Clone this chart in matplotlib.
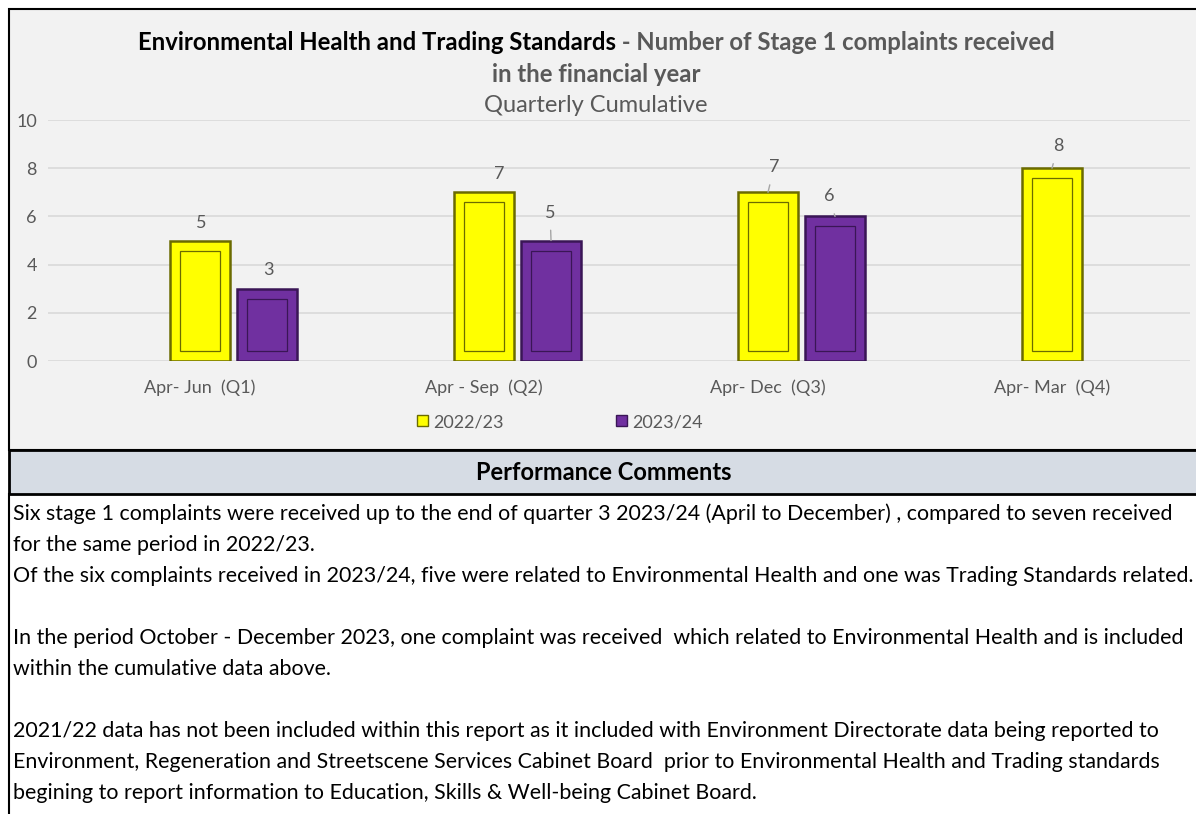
import matplotlib
matplotlib.use("Agg")
import matplotlib.pyplot as plt
from matplotlib.patches import Rectangle, Patch

W, H = 1196, 814

QUARTERS = ["Apr- Jun  (Q1)", "Apr - Sep  (Q2)", "Apr- Dec  (Q3)", "Apr- Mar  (Q4)"]
SERIES = ["2022/23", "2023/24"]
VALS_2223 = [5, 7, 7, 8]
VALS_2324 = [3, 5, 6, None]
YTICKS = [0, 2, 4, 6, 8, 10]

TITLE_BLACK = "Environmental Health and Trading Standards"
TITLE_GREY = " - Number of Stage 1 complaints received"
TITLE_L2 = "in the financial year"
SUBTITLE = "Quarterly Cumulative"
HEADER = "Performance Comments"
COMMENTS = [
    "Six stage 1 complaints were received up to the end of quarter 3 2023/24 (April to December) , compared to seven received",
    "for the same period in 2022/23.",
    "Of the six complaints received in 2023/24, five were related to Environmental Health and one was Trading Standards related.",
    "",
    "In the period October - December 2023, one complaint was received  which related to Environmental Health and is included",
    "within the cumulative data above.",
    "",
    "2021/22 data has not been included within this report as it included with Environment Directorate data being reported to",
    "Environment, Regeneration and Streetscene Services Cabinet Board  prior to Environmental Health and Trading standards",
    "begining to report information to Education, Skills & Well-being Cabinet Board.",
]

YELLOW, YELLOW_EDGE = "#FFFF00", "#6B6B00"
PURPLE, PURPLE_EDGE = "#7030A0", "#3A1656"
GREY_TXT = "#595959"

plt.rcParams["font.family"] = ["Lato", "DejaVu Sans"]

fig = plt.figure(figsize=(W / 100, H / 100), dpi=100)
fig.patch.set_facecolor("white")


def fx(x):
    return x / W


def fy(y):
    return 1 - y / H


def frect(x0, y0, x1, y1, **kw):
    fig.patches.append(Rectangle((fx(x0), fy(y1)), fx(x1 - x0), (y1 - y0) / H,
                                 transform=fig.transFigure, figure=fig, zorder=-5, **kw))


# panels
frect(9, 9, 1200, 450, facecolor="#F2F2F2", edgecolor="black", lw=1.5)
frect(9, 450, 1200, 494, facecolor="#D6DCE4", edgecolor="black", lw=2)
fig.add_artist(plt.Line2D([fx(9), fx(9)], [fy(494), fy(814)], color="black", lw=1.5,
                          transform=fig.transFigure))

# axes: x=0 category centre at 200px, 284px per category; y 0..10 spans 361..120
x_left, x_right = 48, 1190
cat0, step = 200, 284
ax = fig.add_axes([fx(x_left), fy(361), (x_right - x_left) / W, 241 / H])
ax.set_facecolor("none")
ax.set_xlim((x_left - cat0) / step, (x_right - cat0) / step)
ax.set_ylim(0, 10)

bw = 0.21
offs = [0.0, 0.236]
dx_in, dy_in = 10 / step, 10 / 24.1
for vals, off, fc, ec in [(VALS_2223, offs[0], YELLOW, YELLOW_EDGE),
                          (VALS_2324, offs[1], PURPLE, PURPLE_EDGE)]:
    xs = [i + off for i, v in enumerate(vals) if v is not None]
    vs = [v for v in vals if v is not None]
    ax.bar(xs, vs, width=bw, color=fc, edgecolor=ec, lw=1.8, zorder=3)
    ax.bar(xs, [v - 2 * dy_in for v in vs], width=bw - 2 * dx_in, bottom=dy_in,
           fill=False, edgecolor=ec, lw=0.9, zorder=4)

# data labels (pixel offsets, leader line flag)
LABEL_OFFS = {
    (0, 0): (1, 17, False), (0, 1): (1, 19, False),
    (1, 0): (15, 18, False), (1, 1): (-1, 28, True),
    (2, 0): (6, 25, True), (2, 1): (-6, 20, True),
    (3, 0): (6, 22, True),
}
for s, vals in enumerate([VALS_2223, VALS_2324]):
    for i, v in enumerate(vals):
        if v is None:
            continue
        dxp, dyp, lead = LABEL_OFFS[(i, s)]
        ap = dict(arrowstyle="-", color="#A6A6A6", lw=1.0, shrinkA=5, shrinkB=0) if lead else None
        ax.annotate(str(v), xy=(i + offs[s], v), xytext=(dxp * 0.72, dyp * 0.72),
                    textcoords="offset points", ha="center", va="center",
                    fontsize=13, color=GREY_TXT, arrowprops=ap, zorder=5)

ax.set_yticks(YTICKS)
ax.set_xticks(range(len(QUARTERS)))
ax.set_xticklabels(QUARTERS)
ax.tick_params(axis="both", length=0, labelsize=13, labelcolor=GREY_TXT)
ax.tick_params(axis="x", pad=13)
ax.tick_params(axis="y", pad=8)
ax.grid(axis="y", color="#D9D9D9", lw=1.2, zorder=0)
for sp in ax.spines.values():
    sp.set_visible(False)

handles = [Patch(facecolor=YELLOW, edgecolor=YELLOW_EDGE), Patch(facecolor=PURPLE, edgecolor=PURPLE_EDGE)]
fig.legend(handles, SERIES, loc="center", bbox_to_anchor=(fx(560), fy(422)), ncol=2,
           frameon=False, fontsize=13, labelcolor=GREY_TXT, handlelength=0.6,
           handleheight=0.6, handletextpad=0.3, columnspacing=6.2)

# title: two-colour first line, centred
r = fig.canvas.get_renderer()
TFS = 17.2
t1 = fig.text(0, fy(42), TITLE_BLACK, fontsize=TFS, fontweight="bold", color="black", va="center")
t2 = fig.text(0, fy(42), TITLE_GREY, fontsize=TFS, fontweight="bold", color=GREY_TXT, va="center")
w1 = t1.get_window_extent(r).width
w2 = t2.get_window_extent(r).width
start = 596 - (w1 + w2) / 2
t1.set_x(fx(start))
t2.set_x(fx(start + w1))
fig.text(fx(596), fy(74), TITLE_L2, fontsize=TFS, fontweight="bold", color=GREY_TXT, ha="center", va="center")
fig.text(fx(596), fy(105), SUBTITLE, fontsize=17, color=GREY_TXT, ha="center", va="center")

fig.text(fx(604), fy(473), HEADER, fontsize=17, fontweight="bold", color="black", ha="center", va="center")

y = 514
for line in COMMENTS:
    if line:
        fig.text(fx(13), fy(y), line, fontsize=15.4, color="black", ha="left", va="center")
    y += 31

fig.savefig("out.png", dpi=100)
